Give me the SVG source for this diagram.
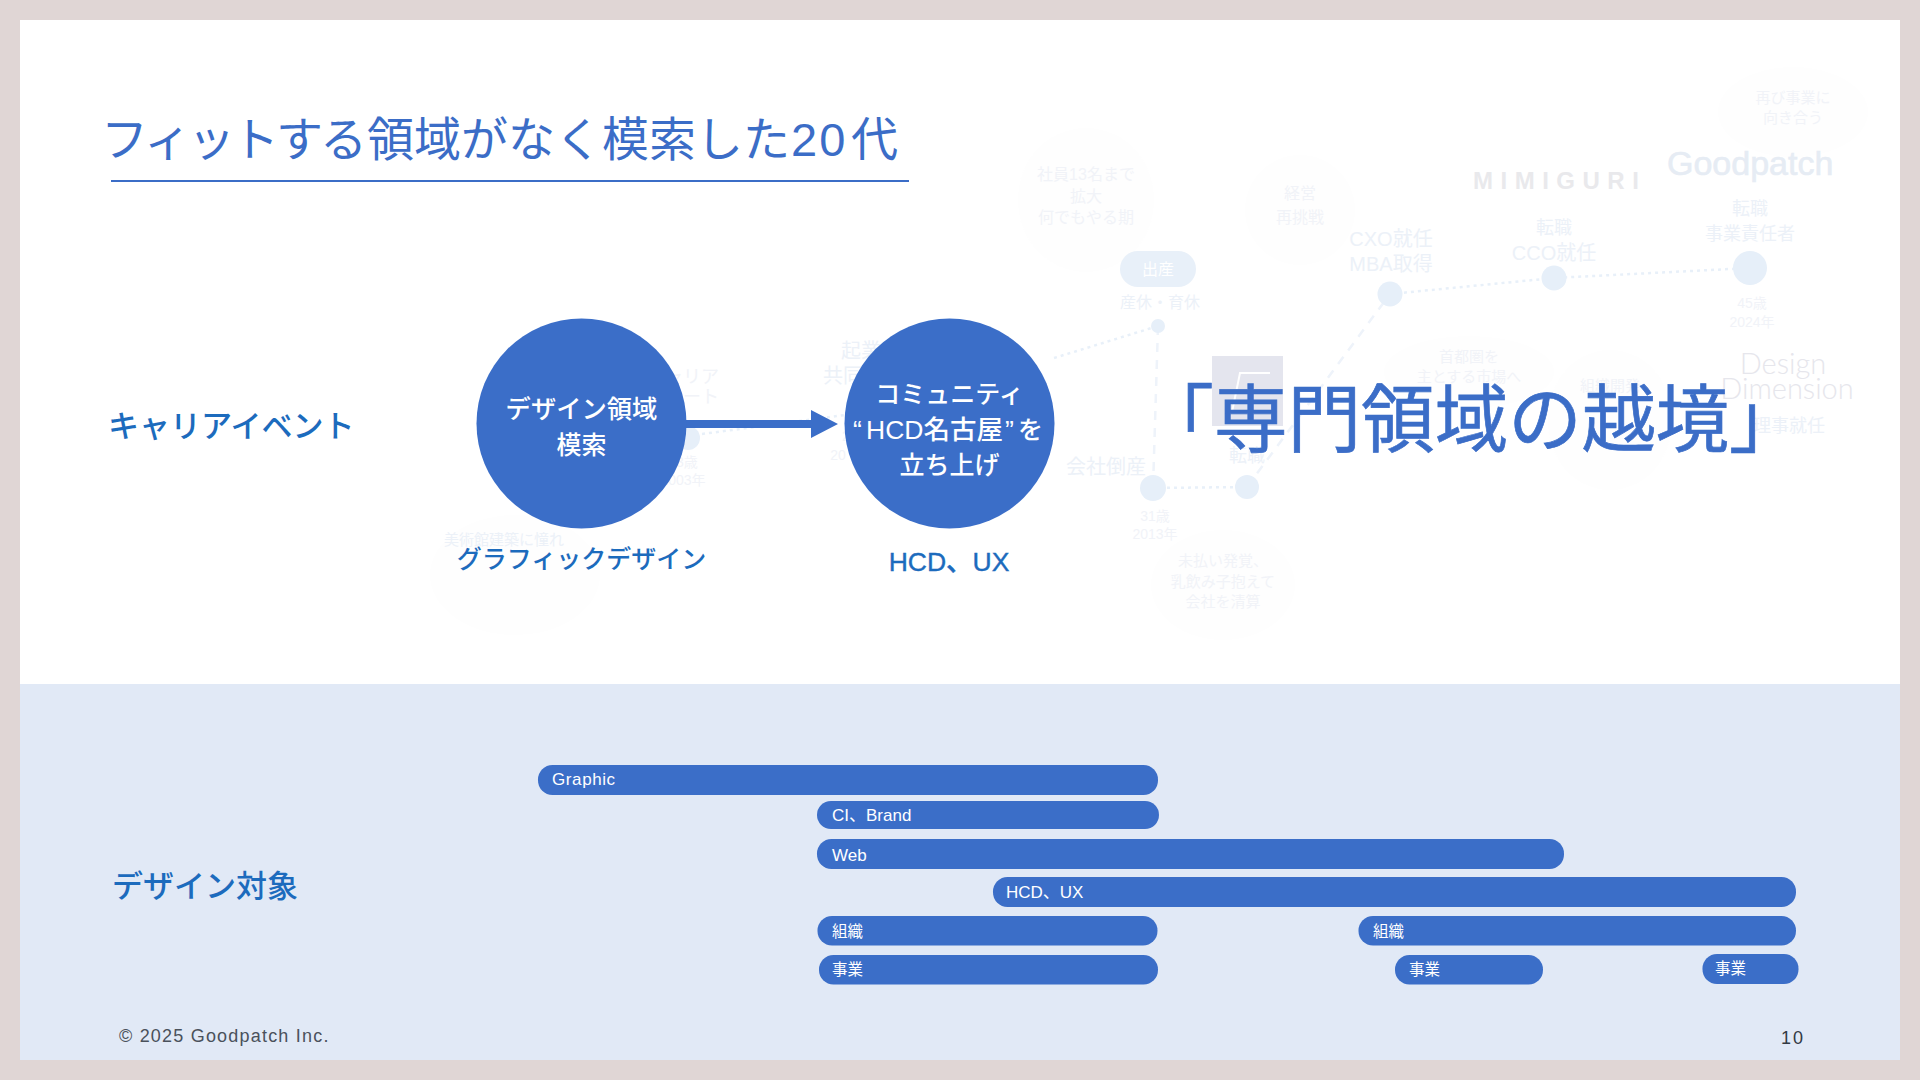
<svg xmlns="http://www.w3.org/2000/svg" width="1920" height="1080" viewBox="0 0 1920 1080">
<style>
text{font-family:"Liberation Sans","Noto Sans CJK JP",sans-serif}
.t{fill:#3b6dc7}
.lab{fill:#1c6bbd;font-size:31px;font-weight:500}
.c{fill:#fff;font-size:25px;font-weight:500;text-anchor:middle}
.sub{fill:#1c6bbd;font-size:25px;font-weight:500;text-anchor:middle}
.bar{fill:#3b6ec8}
.bt{fill:#fff;font-size:17px}
.bj{fill:#fff;font-size:15.5px}
.g{fill:#ecf1f8;text-anchor:middle}
.g2{fill:#f1f3f8;text-anchor:middle}
.dot{fill:#e6eff9}
.ln{fill:none;stroke:#e8f0f9;stroke-width:2.5;stroke-dasharray:3 4}
.ld{fill:none;stroke:#eef3fa;stroke-width:2.5;stroke-dasharray:9 8}
.blob{fill:#fefefe}
</style>
<rect width="1920" height="1080" fill="#e0d6d5"/>
<rect x="20" y="20" width="1880" height="665" fill="#fff"/>
<rect x="20" y="684" width="1880" height="376" fill="#e1e9f6"/>

<g id="background-timeline">
<ellipse class="blob" cx="1086" cy="200" rx="68" ry="72"/>
<ellipse class="blob" cx="1300" cy="210" rx="55" ry="55"/>
<ellipse class="blob" cx="1793" cy="112" rx="75" ry="45"/>
<ellipse class="blob" cx="1223" cy="585" rx="72" ry="55"/>
<ellipse class="blob" cx="1469" cy="372" rx="85" ry="36"/>
<ellipse class="blob" cx="1610" cy="420" rx="62" ry="70"/>
<ellipse class="blob" cx="515" cy="575" rx="85" ry="60"/>
<path class="ln" d="M702 434L845 415M1054 358L1158 326M1390 294L1554 278L1750 268M1153 488L1247 487"/>
<path class="ld" d="M1158 326L1153 488M1247 487L1390 294"/>
<rect x="1212" y="356" width="71" height="70" fill="#e4e5ee"/>
<path d="M1232 412L1240 373H1270" fill="none" stroke="#fff" stroke-width="2"/>
<circle class="dot" cx="688" cy="438" r="12"/>
<circle class="dot" cx="1158" cy="326" r="7"/>
<circle class="dot" cx="1153" cy="488" r="13"/>
<circle class="dot" cx="1247" cy="487" r="12"/>
<circle class="dot" cx="1390" cy="294" r="12.5"/>
<circle class="dot" cx="1554" cy="278" r="12.5"/>
<circle class="dot" cx="1750" cy="268" r="17"/>
<rect x="1120" y="251" width="76" height="36" rx="18" fill="#e8f0f9"/>
<text x="1158" y="275" font-size="16" fill="#fff" text-anchor="middle">出産</text>
<text class="g2" x="1086" y="180" font-size="16">社員13名まで</text>
<text class="g2" x="1086" y="202" font-size="16">拡大</text>
<text class="g2" x="1086" y="223" font-size="16">何でもやる期</text>
<text class="g2" x="1300" y="199" font-size="16">経営</text>
<text class="g2" x="1300" y="223" font-size="16">再挑戦</text>
<text class="g" x="1391" y="246" font-size="20">CXO就任</text>
<text class="g" x="1391" y="271" font-size="20">MBA取得</text>
<text class="g" x="1554" y="234" font-size="18">転職</text>
<text class="g" x="1554" y="260" font-size="20">CCO就任</text>
<text class="g" x="1750" y="215" font-size="18">転職</text>
<text class="g" x="1750" y="240" font-size="18">事業責任者</text>
<text class="g2" x="1793" y="103" font-size="15">再び事業に</text>
<text class="g2" x="1793" y="123" font-size="15">向き合う</text>
<text class="g" x="1160" y="308" font-size="16">産休・育休</text>
<text class="g2" x="1752" y="308" font-size="14">45歳</text>
<text class="g2" x="1752" y="327" font-size="14">2024年</text>
<text x="1473" y="189" font-size="24" font-weight="700" letter-spacing="7.5" fill="#e9e9ec">MIMIGURI</text>
<text x="1667" y="175" font-size="34" fill="#e6ecf4" stroke="#e6ecf4" stroke-width=".6">Goodpatch</text>
<text class="g" x="1106" y="474" font-size="20">会社倒産</text>
<text class="g" x="1247" y="462" font-size="18">転職</text>
<text class="g2" x="1155" y="521" font-size="14">31歳</text>
<text class="g2" x="1155" y="539" font-size="14">2013年</text>
<text class="g2" x="1223" y="566" font-size="15">未払い発覚、</text>
<text class="g2" x="1223" y="587" font-size="15">乳飲み子抱えて</text>
<text class="g2" x="1223" y="607" font-size="15">会社を清算</text>
<text class="g2" x="1469" y="362" font-size="15">首都圏を</text>
<text class="g2" x="1469" y="382" font-size="15">主とする市場へ</text>
<text class="g2" x="1610" y="391" font-size="15">組織開発</text>
<text x="1783" y="374" font-size="29" font-weight="300" fill="#e6e6ec" text-anchor="middle" style="font-family:Lato,sans-serif">Design</text>
<text x="1787" y="399" font-size="29" font-weight="300" fill="#e6e6ec" text-anchor="middle" style="font-family:Lato,sans-serif">Dimension</text>
<text class="g" x="1789" y="432" font-size="18">理事就任</text>
<text class="g2" x="683" y="383" font-size="18">キャリア</text>
<text class="g2" x="683" y="403" font-size="18">スタート</text>
<text class="g2" x="683" y="467" font-size="14">23歳</text>
<text class="g2" x="683" y="485" font-size="14">2003年</text>
<text class="g" x="861" y="358" font-size="20">起業</text>
<text class="g" x="843" y="383" font-size="20">共同</text>
<text class="g2" x="846" y="441" font-size="14">2</text>
<text class="g2" x="838" y="460" font-size="14">20</text>
<text class="g" x="504" y="545" font-size="15">美術館建築に憧れ</text>
</g>

<g id="title">
<text class="t" y="156" font-size="47"><tspan x="101" letter-spacing="-3">フィットする</tspan><tspan x="367">領域がなく模索した</tspan><tspan x="791" letter-spacing="2">20</tspan><tspan x="851">代</tspan></text>
<rect x="111" y="180" width="798" height="2" fill="#3b6dc7"/>
</g>

<g id="row-labels">
<text class="lab" x="108" y="437">キャリアイベント</text>
<text class="lab" x="112" y="897">デザイン対象</text>
</g>

<g id="connectors">
<path d="M686 420H811V410L838 424L811 438V428H686Z" fill="#3b6ec8"/>
</g>

<g id="node-design">
<circle cx="581.5" cy="423.5" r="105" fill="#3b6ec8"/>
<text class="c" x="581.5" y="418" style="font-size:25.3px">デザイン領域</text>
<text class="c" x="581.5" y="454">模索</text>
<text class="sub" x="581.5" y="568">グラフィックデザイン</text>
</g>

<g id="node-community">
<circle cx="949.5" cy="423.5" r="105" fill="#3b6ec8"/>
<text class="c" x="949.5" y="403">コミュニティ</text>
<text class="c" y="439" style="font-size:26.5px;text-anchor:start"><tspan x="853">“</tspan><tspan x="866">HCD名古屋</tspan><tspan x="1005">”</tspan><tspan x="1018" style="font-size:25px">を</tspan></text>
<text class="c" x="949.5" y="474">立ち上げ</text>
<text class="sub" x="949" y="571" stroke="#1c6bbd" stroke-width=".4" style="font-size:26.5px">HCD、UX</text>
</g>

<g id="callout">
<text class="t" x="1471.5" y="446" font-size="73.6" stroke="#3b6dc7" stroke-width=".7" text-anchor="middle">「専門領域の越境」</text>
</g>

<g id="bars">
<rect class="bar" x="538" y="765" width="620" height="30" rx="14.5"/>
<rect class="bar" x="817" y="801" width="342" height="28" rx="14"/>
<rect class="bar" x="817" y="839" width="747" height="30" rx="14.5"/>
<rect class="bar" x="993" y="877" width="803" height="30" rx="14.5"/>
<rect class="bar" x="817.5" y="916" width="340" height="29.5" rx="14.5"/>
<rect class="bar" x="1358.5" y="916" width="437.5" height="29.5" rx="14.5"/>
<rect class="bar" x="819" y="955" width="339" height="29.5" rx="14.5"/>
<rect class="bar" x="1395" y="955" width="148" height="29.5" rx="14.5"/>
<rect class="bar" x="1702.5" y="954" width="96" height="30" rx="14.5"/>
<text class="bt" x="552" y="785" letter-spacing=".6">Graphic</text>
<text class="bt" x="832" y="821">CI、Brand</text>
<text class="bt" x="832" y="861">Web</text>
<text class="bt" x="1006" y="898">HCD、UX</text>
<text class="bj" x="832" y="937">組織</text>
<text class="bj" x="1373" y="937">組織</text>
<text class="bj" x="832" y="975">事業</text>
<text class="bj" x="1409" y="975">事業</text>
<text class="bj" x="1715" y="974">事業</text>
</g>

<g id="footer">
<text x="119" y="1042" font-size="18" letter-spacing="1.2" fill="#4a515b">© 2025 Goodpatch Inc.</text>
<text x="1781" y="1044" font-size="18" letter-spacing="2" fill="#333a44">10</text>
</g>
</svg>
